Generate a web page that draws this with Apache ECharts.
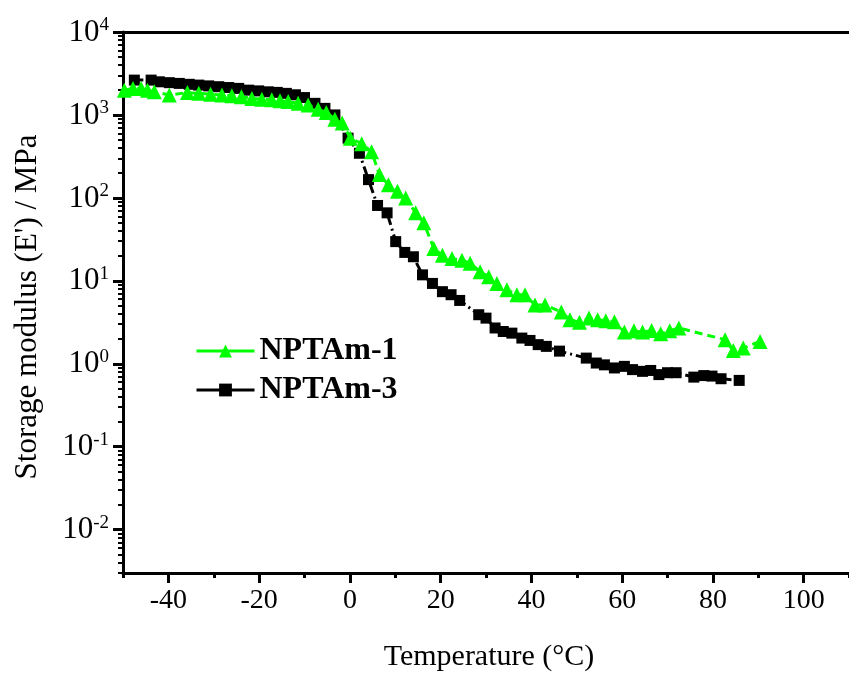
<!DOCTYPE html>
<html>
<head>
<meta charset="utf-8">
<script src="https://cdn.jsdelivr.net/npm/echarts@6/dist/echarts.min.js"></script>
<style>
html,body{margin:0;padding:0;background:#fff}
#chart{width:849px;height:677px}
</style>
</head>
<body>
<div id="chart"></div>
<script>
// 温度 (°C) 和储能模量 (MPa)
var temp1 = [-49.7,-47.8,-46,-44.6,-43.1,-39.8,-35.8,-33.3,-30.7,-28.2,-26,-23.9,-21.6,-19.4,-17.2,-15.4,-13.6,-11.4,-9.2,-7,-5.2,-3.3,-1.7,0.1,2.6,4.8,6.5,8.5,10.5,12.3,14.5,16.3,18.5,20.4,22.5,24.7,26.5,28.7,30.6,32.4,34.6,36.8,38.6,40.8,43,46.6,48.5,50.6,52.7,54.6,56.4,58.3,60.5,62.6,64.5,66.5,68.5,70.5,72.5,82.7,84.5,86.7,90.4];
var mod1 = [1990,2090,2090,1990,1900,1740,1860,1820,1780,1740,1700,1660,1580,1550,1520,1480,1450,1380,1320,1170,1070,890,800,525,450,360,191,144,120,100,66,50,24.5,20.4,18.6,17.7,16.3,12.9,11.2,9.3,7.8,6.8,6.8,5.1,5.1,4.2,3.4,3.16,3.55,3.4,3.3,3.2,2.41,2.5,2.41,2.52,2.3,2.5,2.7,1.95,1.44,1.55,1.86];

var temp3 = [-47.5,-43.8,-42,-39.8,-37.6,-35.4,-33.3,-31.1,-28.9,-26.7,-24.5,-22.3,-20.1,-18,-16,-14,-12,-10,-7.7,-5.5,-3.3,-0.4,2.1,4.1,6.1,8.2,10.1,12.1,14,16,18.2,20.4,22.3,24.2,28.4,30,32,33.8,35.7,37.9,39.7,41.5,43.3,46.2,52.1,54.3,56.1,58.3,60.5,62.3,64.5,66.3,68.1,70,71.9,75.8,78,79.8,81.8,85.8];
var mod3 = [2630,2630,2510,2450,2400,2340,2290,2240,2190,2140,2090,1990,1950,1900,1870,1820,1750,1620,1380,1200,1000,525,345,166,81,66,29.7,22,19.5,11.8,9.3,7.4,6.8,5.8,3.9,3.55,2.7,2.45,2.34,2.04,1.91,1.7,1.62,1.42,1.17,1.02,0.97,0.89,0.93,0.85,0.81,0.83,0.74,0.78,0.78,0.69,0.72,0.71,0.66,0.63];

var xMajor = [-40,-20,0,20,40,60,80,100];
var xMinor = [-50,-30,-10,10,30,50,70,90,110];
var yMajor = [0.01,0.1,1,10,100,1000,10000];
var yExp = {'0.01':'-2','0.1':'-1','1':'0','10':'1','100':'2','1000':'3','10000':'4'};

// 对数次刻度 2..9
var yMinor = [];
for (var n = -3; n <= 3; n++) {
    for (var k = 2; k <= 9; k++) {
        var v = +(k * Math.pow(10, n)).toPrecision(3);
        if (v >= 0.003 && v <= 10000) yMinor.push(v);
    }
}

function pairs(xs, ys) {
    return xs.map(function (x, i) { return [x, ys[i]]; });
}

var font = '"Liberation Serif","Times New Roman",serif';
var chart = echarts.init(document.getElementById('chart'));

var option = {
    animation: false,
    backgroundColor: '#fff',
    textStyle: {fontFamily: font},
    grid: {left: 123, top: 32, width: 733, height: 541},
    legend: {
        left: 190, top: 330, orient: 'vertical',
        itemWidth: 58, itemHeight: 16, itemGap: 7,
        textStyle: {fontFamily: font, fontSize: 32, fontWeight: 'bold', color: '#000'},
        lineStyle: {type: 'solid', width: 3},
        data: ['NPTAm-1', 'NPTAm-3']
    },
    xAxis: [{
        type: 'value', min: -50, max: 110, position: 'bottom',
        axisLine: {onZero: false, lineStyle: {color: '#000', width: 3}},
        axisTick: {show: true, length: 10, lineStyle: {width: 3, color: '#000'}, customValues: xMajor},
        axisLabel: {fontSize: 28, color: '#000', margin: 14, fontFamily: font, customValues: xMajor},
        splitLine: {show: false}
    }, {
        type: 'value', min: -50, max: 110, position: 'bottom',
        axisLine: {show: false, onZero: false},
        axisTick: {show: true, length: 5, lineStyle: {width: 3, color: '#000'}, customValues: xMinor},
        axisLabel: {show: false},
        splitLine: {show: false}
    }, {
        type: 'value', min: -50, max: 110, position: 'top',
        axisLine: {onZero: false, lineStyle: {color: '#000', width: 3}},
        axisTick: {show: false}, axisLabel: {show: false}, splitLine: {show: false}
    }],
    yAxis: [{
        type: 'log', min: 0.003, max: 10000, position: 'left',
        axisLine: {show: true, onZero: false, lineStyle: {color: '#000', width: 3}},
        axisTick: {show: true, length: 10, lineStyle: {width: 3, color: '#000'}, customValues: yMajor},
        axisLabel: {
            margin: 14, color: '#000', fontFamily: font, customValues: yMajor,
            formatter: function (val) {
                var e = yExp[String(+val.toPrecision(3))];
                return e === undefined ? '' : '{b|10}{s|' + e + '}';
            },
            rich: {
                b: {fontSize: 31, fontFamily: font, color: '#000', verticalAlign: 'bottom', lineHeight: 32},
                s: {fontSize: 19, fontFamily: font, color: '#000', verticalAlign: 'top', lineHeight: 32, padding: [0, 0, 14, 0]}
            }
        },
        splitLine: {show: false}
    }, {
        type: 'log', min: 0.003, max: 10000, position: 'left',
        axisLine: {show: false, onZero: false},
        axisTick: {show: true, length: 5, lineStyle: {width: 2, color: '#000'}, customValues: yMinor},
        axisLabel: {show: false},
        splitLine: {show: false}
    }],
    series: [{
        name: 'NPTAm-1', type: 'line',
        data: pairs(temp1, mod1),
        symbol: 'triangle', symbolSize: 15,
        itemStyle: {color: '#00ff00'},
        lineStyle: {color: '#00ff00', width: 3, type: [8, 5]},
        z: 3
    }, {
        name: 'NPTAm-3', type: 'line',
        data: pairs(temp3, mod3),
        symbol: 'rect', symbolSize: 11,
        itemStyle: {color: '#000'},
        lineStyle: {color: '#000', width: 3, type: [9, 4, 2, 4]},
        z: 2
    }],
    graphic: [{
        type: 'text', x: 489, y: 657,
        style: {text: 'Temperature (°C)', font: '30px ' + font, fill: '#000', textAlign: 'center', textVerticalAlign: 'middle'}
    }, {
        type: 'text', x: 28, y: 307, rotation: Math.PI / 2,
        style: {text: "Storage modulus (E') / MPa", font: '31px ' + font, fill: '#000', textAlign: 'center', textVerticalAlign: 'middle'}
    }]
};
chart.setOption(option);
</script>
</body>
</html>
